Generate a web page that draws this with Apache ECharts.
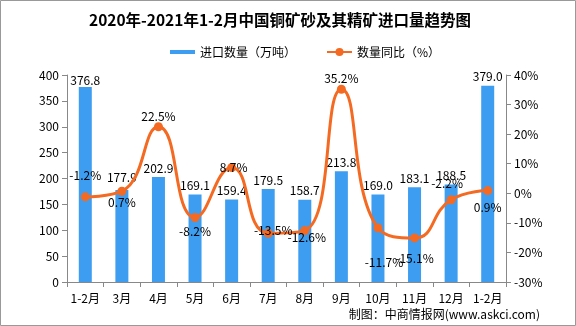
<!DOCTYPE html>
<html><head><meta charset="utf-8">
<script src="https://cdn.jsdelivr.net/npm/echarts@6/dist/echarts.min.js"></script>
<style>html,body{margin:0;padding:0;background:#fff}#c{width:576px;height:326px}</style>
</head><body><div id="c"></div>
<script>
const categories = ['1-2月','3月','4月','5月','6月','7月','8月','9月','10月','11月','12月','1-2月'];
const importVolume = [376.8,177.9,202.9,169.1,159.4,179.5,158.7,213.8,169.0,183.1,188.5,379.0];
const yoyGrowth = [-1.2,0.7,22.5,-8.2,8.7,-13.5,-12.6,35.2,-11.7,-15.1,-2.2,0.9];
const leftTicks = [0,50,100,150,200,250,300,350,400];
const rightTicks = [-30,-20,-10,0,10,20,30,40];

const FONT = '"Noto Sans CJK SC", sans-serif';
// label placement for each line point (style only)
const lineLabelStyle = [
  {position:'top', distance:11},
  {position:'bottom', distance:1},
  {position:'top', distance:0},
  {position:'bottom', distance:3},
  {position:'inside', offset:[2,0]},
  {position:'inside', offset:[5,-3]},
  {position:'bottom', distance:-4, offset:[2,0]},
  {position:'top', distance:0},
  {position:'bottom', distance:24, offset:[6,0]},
  {position:'bottom', distance:10},
  {position:'top', distance:6, offset:[-4,0]},
  {position:'bottom', distance:6}
];
const barLabelDist = [1,6,3,3,3,3,3,3,3,3,3,3];

const chart = echarts.init(document.getElementById('c'), null, {renderer:'canvas'});
chart.setOption({
  animation:false,
  backgroundColor:'#fff',
  textStyle:{fontFamily:FONT},
  title:{
    text:'2020年-2021年1-2月中国铜矿砂及其精矿进口量趋势图',
    left:84, top:7,
    textStyle:{fontFamily:FONT, fontSize:15.5, fontWeight:'bold', color:'#000'}
  },
  legend:{
    left:165, top:41, itemGap:30, itemWidth:25, itemHeight:10,
    textStyle:{fontFamily:FONT, fontSize:12, color:'#000'},
    data:[
      {name:'进口数量（万吨）', icon:'path://M0,3 L25,3 L25,7 L0,7 Z'},
      {name:'数量同比（%）'}
    ]
  },
  grid:{left:67, right:70, top:75, bottom:44},
  xAxis:{
    type:'category', data:categories,
    axisLine:{lineStyle:{color:'#888'}},
    axisTick:{show:true, alignWithLabel:false, length:5, lineStyle:{color:'#888'}},
    axisLabel:{color:'#000', fontSize:12, margin:10, interval:0, fontFamily:FONT}
  },
  yAxis:[
    {type:'value', min:0, max:400, interval:50,
     axisLine:{show:true, lineStyle:{color:'#888'}},
     axisTick:{show:true, length:5, lineStyle:{color:'#888'}},
     splitLine:{show:false},
     axisLabel:{color:'#000', fontSize:12, margin:8, fontFamily:FONT,
       formatter:v=>leftTicks.includes(v)?String(v):''}},
    {type:'value', min:-30, max:40, interval:10,
     axisLine:{show:true, lineStyle:{color:'#888'}},
     axisTick:{show:true, length:5, lineStyle:{color:'#888'}},
     splitLine:{show:false},
     axisLabel:{color:'#000', fontSize:12, margin:8, fontFamily:FONT,
       formatter:v=>rightTicks.includes(v)?v+'%':''}}
  ],
  series:[
    {name:'进口数量（万吨）', type:'bar', barWidth:13, yAxisIndex:0,
     itemStyle:{color:'#3d9df1'},
     data:importVolume.map((v,i)=>({value:v, label:{distance:barLabelDist[i]}})),
     label:{show:true, position:'top', color:'#000', fontSize:12, fontFamily:FONT,
       formatter:p=>p.value.toFixed(1)}},
    {name:'数量同比（%）', type:'line', yAxisIndex:1, smooth:true,
     symbol:'circle', symbolSize:9,
     lineStyle:{width:3, color:'#f46a22'}, itemStyle:{color:'#f46a22'},
     data:yoyGrowth.map((v,i)=>({value:v, label:lineLabelStyle[i]})),
     label:{show:true, color:'#000', fontSize:12, fontFamily:FONT,
       formatter:p=>p.value.toFixed(1)+'%'}, z:5}
  ],
  graphic:[
    {type:'rect', shape:{x:0.5,y:0.5,width:575,height:325}, style:{fill:'none', stroke:'#999', lineWidth:1}, silent:true},
    {type:'text', right:36, top:308, style:{text:'制图：中商情报网(www.askci.com)', font:'12px '+FONT, fill:'#000'}}
  ]
});
</script></body></html>
